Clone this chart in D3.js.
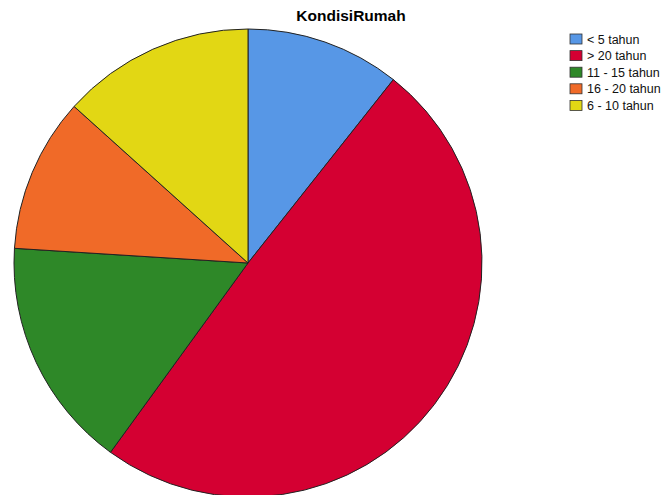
<!DOCTYPE html>
<html>
<head>
<meta charset="utf-8">
<script src="https://cdn.jsdelivr.net/npm/d3@7"></script>
<style>
  body { margin: 0; background: #fff; }
  svg { display: block; font-family: Arial, "Liberation Sans", sans-serif; }
</style>
</head>
<body>
<script>
// data (counts)
var categories = ["< 5 tahun", "> 20 tahun", "11 - 15 tahun", "16 - 20 tahun", "6 - 10 tahun"];
var counts = [8, 37, 12, 8, 10];
var colors = ["#5797e6", "#d40032", "#2e8828", "#f06a28", "#e2d714"];

var width = 665, height = 495;
var cx = 248, cy = 263, radius = 234;

var svg = d3.select("body").append("svg")
    .attr("width", width)
    .attr("height", height);

var data = categories.map(function (c, i) { return { cat: c, value: counts[i], color: colors[i] }; });

var pie = d3.pie()
    .sort(null)
    .value(function (d) { return d.value; });

var arc = d3.arc().innerRadius(0).outerRadius(radius);

var g = svg.append("g")
    .attr("transform", "translate(" + cx + "," + cy + ")");

g.selectAll("path")
    .data(pie(data))
    .enter().append("path")
    .attr("d", arc)
    .attr("fill", function (d) { return d.data.color; })
    .attr("stroke", "#222")
    .attr("stroke-width", 1);

// title
svg.append("text")
    .attr("x", 351)
    .attr("y", 21)
    .attr("text-anchor", "middle")
    .attr("font-weight", "bold")
    .attr("font-size", "15.5px")
    .text("KondisiRumah");

// legend
var legend = svg.append("g")
    .attr("transform", "translate(570,34)");

var item = legend.selectAll("g")
    .data(data)
    .enter().append("g")
    .attr("transform", function (d, i) { return "translate(0," + (i * 16.6) + ")"; });

item.append("rect")
    .attr("width", 12)
    .attr("height", 10)
    .attr("fill", function (d) { return d.color; })
    .attr("stroke", "#333")
    .attr("stroke-width", 0.8);

item.append("text")
    .attr("x", 17)
    .attr("y", 9.5)
    .attr("font-size", "12.5px")
    .attr("fill", "#111")
    .text(function (d) { return d.cat; });
</script>
</body>
</html>
